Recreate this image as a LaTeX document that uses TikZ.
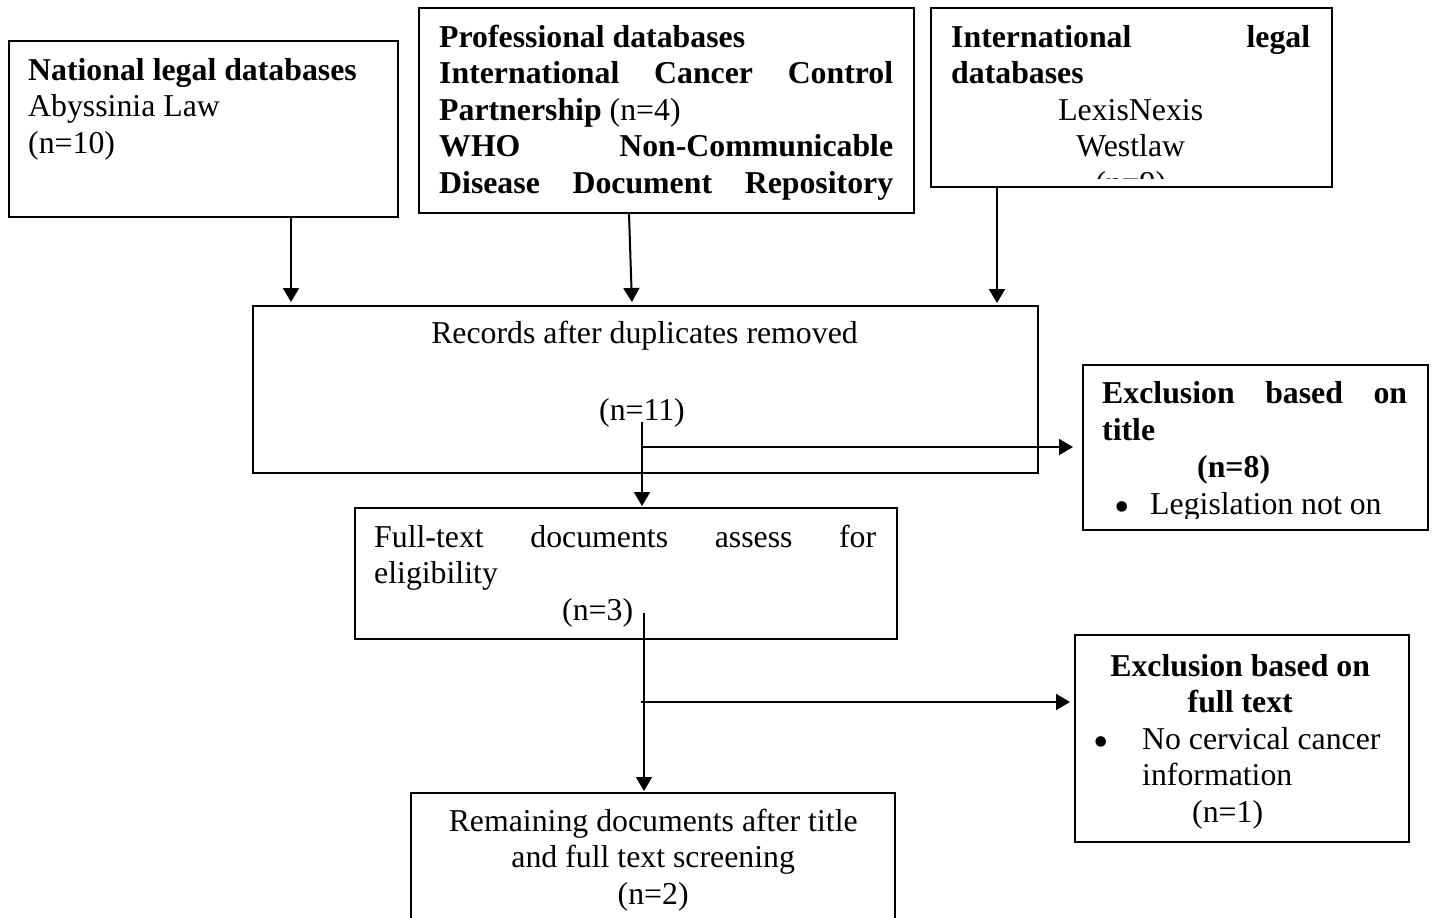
\documentclass[tikz,border=0pt]{standalone}
\usepackage{fontspec}
\setmainfont{Liberation Serif}
\usetikzlibrary{arrows.meta}

% stretched (justified) line of full width
\newcommand{\jline}[1]{\makebox[\linewidth][s]{#1}}
% centred line of full width
\newcommand{\cenline}[1]{\makebox[\linewidth][c]{#1}}
% list bullet, a little larger than the text bullet
\newcommand{\bigbullet}{\raisebox{-7pt}{\fontsize{44pt}{0pt}\selectfont\textbullet}}

\tikzset{
  box/.style={draw, line width=1.6pt, inner sep=0pt, anchor=north west},
  txt/.style={inner sep=0pt, anchor=base west,
    font=\fontsize{31.8pt}{36.6pt}\selectfont},
  arr/.style={line width=2pt, -{Triangle[width=16pt,length=14pt]}},
}

\begin{document}
\begin{tikzpicture}[x=1pt,y=-1pt]
\clip (0,0) rectangle (1438,918);
\fill[white] (0,0) rectangle (1438,918);

% source boxes
\node[box, minimum width=389pt, minimum height=176pt] (nat) at (8,40) {};
\node[box, minimum width=495pt, minimum height=205pt] (prof) at (418,7) {};
\node[box, minimum width=401pt, minimum height=179pt] (intl) at (930,7) {};

\node[txt] (natT) at (28,80) {\parbox[t]{340pt}{%
  \textbf{National legal databases}\\
  Abyssinia Law\\
  (n=10)}};

\node[txt] (profT) at (439,47) {\parbox[t]{454pt}{%
  \textbf{Professional databases}\\
  \jline{\textbf{International Cancer Control}}\\
  \textbf{Partnership} (n=4)\\
  \jline{\textbf{WHO Non-Communicable}}\\
  \jline{\textbf{Disease Document Repository}}}};

\begin{scope}
  \clip (930,7) rectangle (1332,178);
  \node[txt] (intlT) at (951,47) {\parbox[t]{359pt}{%
    \jline{\textbf{International legal}}\\
    \textbf{databases}\\
    \cenline{LexisNexis}\\
    \cenline{Westlaw}\\
    \cenline{(n=9)}}};
\end{scope}

% screening boxes
\node[box, minimum width=785pt, minimum height=167pt] (rec) at (252,305) {};
\node[txt, anchor=base] (recT1) at (644.5,343) {Records after duplicates removed};
\node[txt, anchor=base] (recT2) at (642,420) {(n=11)};

\node[box, minimum width=345pt, minimum height=165pt] (excl1) at (1082,364) {};
\begin{scope}
  \clip (1082,364) rectangle (1427,518);
  \node[txt] (excl1T) at (1102,403) {\parbox[t]{305pt}{\baselineskip=37.3pt
    \jline{\textbf{Exclusion based on}}\\
    \textbf{title}\\
    \hspace*{95pt}\textbf{(n=8)}\\
    \hspace*{12pt}\makebox[36pt][l]{\bigbullet}Legislation not on}};
\end{scope}

\node[box, minimum width=542pt, minimum height=131pt] (full) at (354,507) {};
\node[txt] (fullT) at (374,547) {\parbox[t]{502pt}{%
  \jline{Full-text documents assess for}\\
  eligibility\\
  \hspace*{188pt}(n=3)}};

\node[box, minimum width=334pt, minimum height=207pt] (excl2) at (1074,634) {};
\node[txt] (excl2T) at (1090,676) {\parbox[t]{300pt}{%
  \cenline{\textbf{Exclusion based on}}\\
  \cenline{\textbf{full text}}\\
  \hspace*{3pt}\makebox[49pt][l]{\bigbullet}No cervical cancer\\
  \hspace*{52pt}information\\
  \hspace*{102pt}(n=1)}};

\node[box, minimum width=484pt, minimum height=170pt] (rem) at (410,792) {};
\node[txt] (remT) at (410,831) {\parbox[t]{486pt}{\centering
  Remaining documents after title\\
  and full text screening\\
  (n=2)}};

% connectors
\draw[arr, shorten >=3pt] (nat.south -| 291,0) -- (rec.north -| 291,0);
\draw[arr, shorten >=3pt] (prof.south -| 629,0) -- (rec.north -| 632,0);
\draw[arr, shorten >=2pt] (intl.south -| 997,0) -- (rec.north -| 997,0);

\coordinate (s1) at (642,422);
\coordinate (b1) at (642,447);
\draw[arr, shorten >=1pt] (s1) -- (full.north -| s1);
\draw[arr, shorten >=9pt] (b1) -- (b1 -| excl1.west);

\coordinate (s2) at (644,613);
\coordinate (b2) at (641,702);
\draw[arr, shorten >=1pt] (s2) -- (rem.north -| s2);
\draw[arr, shorten >=4pt] (b2) -- (b2 -| excl2.west);
\end{tikzpicture}
\end{document}
